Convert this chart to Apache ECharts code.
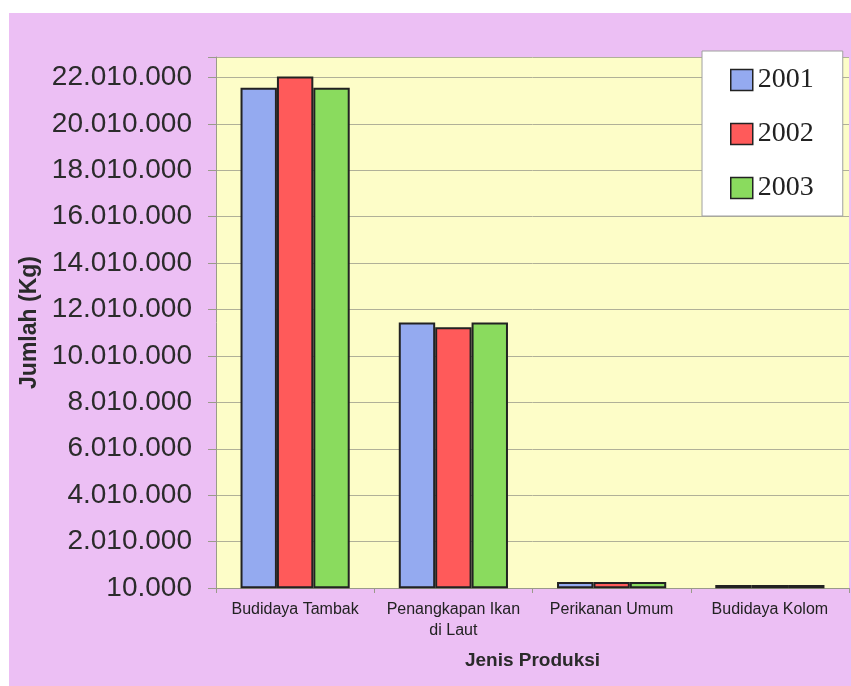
<!DOCTYPE html>
<html>
<head>
<meta charset="utf-8">
<script src="https://cdn.jsdelivr.net/npm/echarts@6/dist/echarts.min.js"></script>
<style>
  html, body { margin: 0; padding: 0; background: #ffffff; }
  #chart { width: 851px; height: 686px; }
</style>
</head>
<body>
<div id="chart"></div>
<script>
// Production volume by type, 2001–2003 (kg)
const categories = ['Budidaya Tambak', 'Penangkapan Ikan\ndi Laut', 'Perikanan Umum', 'Budidaya Kolom'];
const seriesNames = ['2001', '2002', '2003'];
const values2001 = [21560000, 11450000, 270000, 140000];
const values2002 = [22050000, 11240000, 270000, 140000];
const values2003 = [21560000, 11450000, 270000, 140000];
const yMin = 10000;
const yMax = 22890000;
const yStep = 2000000;

const colors = ['#94AAF0', '#FF5A5A', '#8ADB5E'];

// Thousands separated with dots
function fmt(v) {
  return String(Math.round(v)).replace(/\B(?=(\d{3})+(?!\d))/g, '.');
}

const chart = echarts.init(document.getElementById('chart'), null, { renderer: 'canvas' });

const allValues = [values2001, values2002, values2003];

const option = {
  animation: false,
  backgroundColor: '#ffffff',
  graphic: {
    elements: [{
      type: 'rect',
      z: -100,
      silent: true,
      shape: { x: 9, y: 13, width: 842, height: 673 },
      style: { fill: '#ECBFF4' }
    }]
  },
  color: colors,
  grid: {
    left: 216, right: 2, top: 57, bottom: 98,
    show: true,
    backgroundColor: '#FDFDC8',
    borderColor: '#B8B8A0',
    borderWidth: 0,
    containLabel: false
  },
  legend: {
    orient: 'vertical',
    left: 702, top: 51,
    width: 145,
    padding: [15, 29, 14, 28],
    itemGap: 26,
    itemWidth: 22,
    itemHeight: 21,
    icon: 'rect',
    backgroundColor: '#ffffff',
    borderColor: '#A0A0A0',
    borderWidth: 1,
    itemStyle: { borderColor: '#222222', borderWidth: 1.5 },
    textStyle: { fontFamily: 'Liberation Serif', fontSize: 28, color: '#222222', lineHeight: 28 },
    data: seriesNames
  },
  xAxis: {
    type: 'category',
    data: categories,
    name: 'Jenis Produksi',
    nameLocation: 'middle',
    nameGap: 63,
    nameTextStyle: { fontFamily: 'Liberation Sans', fontSize: 19, fontWeight: 'bold', color: '#2a2a2a' },
    axisLine: { lineStyle: { color: '#9A9A8A', width: 1 } },
    axisTick: { show: true, length: 5, lineStyle: { color: '#9A9A8A' } },
    axisLabel: {
      fontFamily: 'Liberation Sans', fontSize: 16, color: '#222222',
      margin: 11, lineHeight: 21, interval: 0
    },
    splitLine: { show: false }
  },
  yAxis: {
    type: 'value',
    min: yMin,
    max: yMax,
    interval: yStep,
    name: 'Jumlah (Kg)',
    nameLocation: 'middle',
    nameRotate: 90,
    nameGap: 170,
    nameTextStyle: { fontFamily: 'Liberation Sans', fontSize: 23, fontWeight: 'bold', color: '#2a2a2a' },
    axisLine: { show: true, lineStyle: { color: '#9A9A8A', width: 1 } },
    axisTick: { show: true, length: 8, lineStyle: { color: '#9A9A8A' } },
    axisLabel: {
      fontFamily: 'Liberation Sans', fontSize: 28, color: '#2b2b2b', margin: 24,
      formatter: function (v) {
        return ((v - yMin) % yStep === 0) ? fmt(v) : '';
      }
    },
    splitLine: { show: true, lineStyle: { color: '#B0B098', width: 1 } }
  },
  series: seriesNames.map(function (name, i) {
    return {
      name: name,
      type: 'bar',
      data: allValues[i],
      barGap: '0%',
      barCategoryGap: '31%',
      itemStyle: { color: colors[i], borderColor: '#222222', borderWidth: 2 }
    };
  })
};

chart.setOption(option);
</script>
</body>
</html>
